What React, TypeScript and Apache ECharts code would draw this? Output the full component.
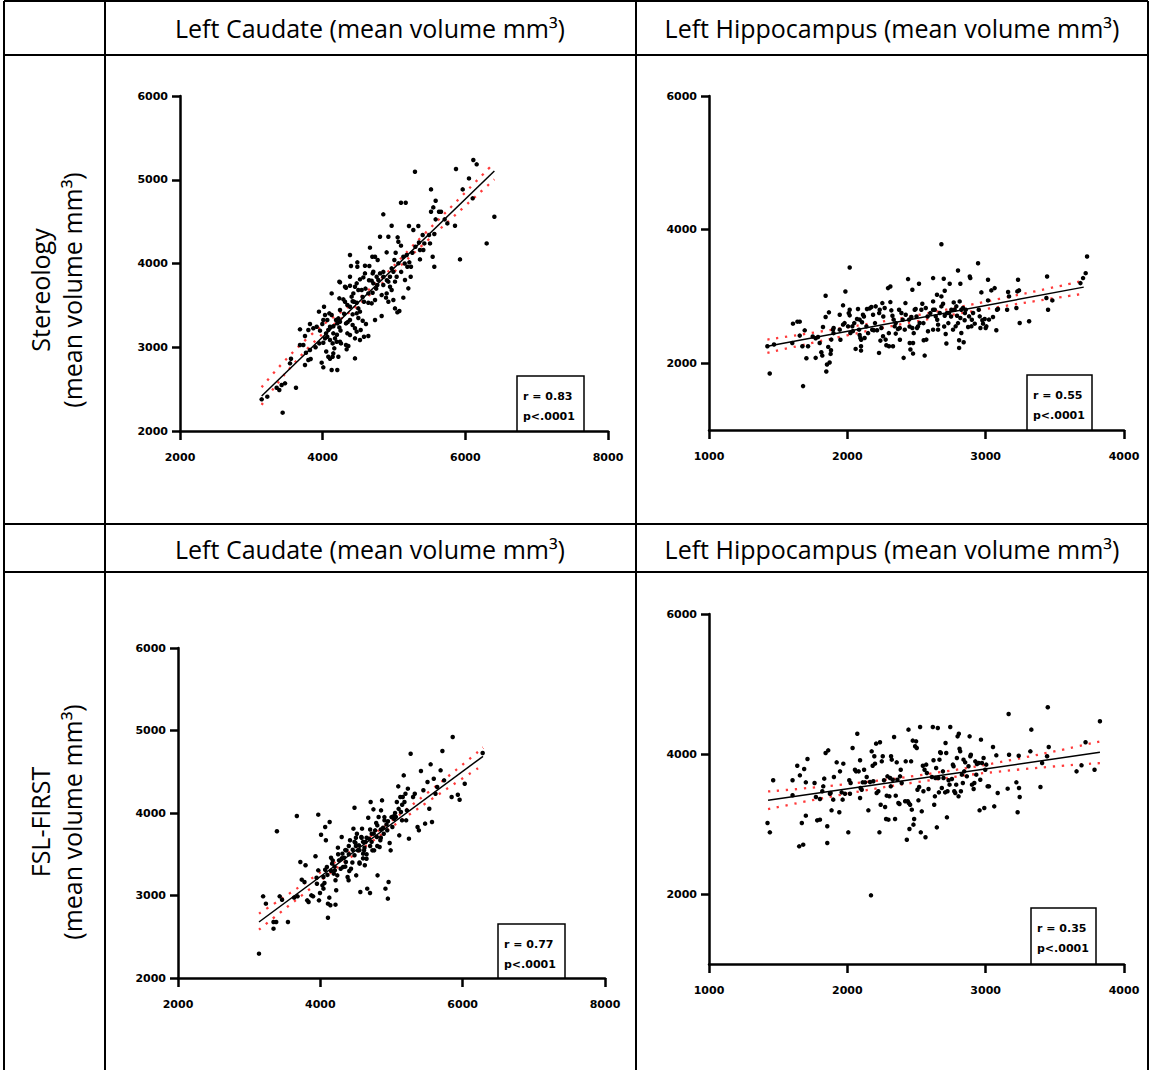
import React, { useEffect, useRef } from 'react';
import * as echarts from 'echarts';

const headerTitles = ['Left Caudate (mean volume mm³)', 'Left Hippocampus (mean volume mm³)'];
const rowNames = ['Stereology', 'FSL-FIRST'];
const rowUnit = '(mean volume mm³)';
const statR = ['r = 0.83', 'r = 0.55', 'r = 0.77', 'r = 0.35'];
const statP = 'p<.0001';

const xTicksCaudate = [2000, 4000, 6000, 8000];
const xTicksHippo = [1000, 2000, 3000, 4000];
const yTicksCaudate = [2000, 3000, 4000, 5000, 6000];
const yTicksHippo = [2000, 4000, 6000];
const yRangeCaudate = [2000, 6000];
const yRangeHippo = [1000, 6000];

const stereoCaudate = [
  [6112,5235],[6159,5184],[5869,5128],[5294,5096],[6051,5016],[5963,4885],[5519,4885],[6103,4778],[5584,4750],[5551,4670],
  [5098,4726],[5164,4726],[5631,4618],[5659,4618],[5519,4618],[5710,4527],[5584,4527],[5748,4479],[5855,4451],[6407,4559],
  [4850,4587],[4967,4451],[4804,4320],[4921,4320],[5210,4447],[5341,4447],[5271,4400],[5402,4340],[5425,4240],[5491,4340],
  [5505,4240],[5565,4352],[5542,4081],[5565,3962],[5925,4049],[6299,4240],[5051,4312],[5061,4260],[5098,4213],[4663,4189],
  [4696,4081],[4734,4081],[4897,4133],[4771,4041],[4383,4101],[4486,4014],[4593,3974],[4397,3970],[5023,4129],[5005,4041],
  [5061,4002],[5131,4081],[5178,4101],[5257,4129],[5215,4014],[5238,3962],[5187,3962],[5364,4161],[5411,4161],[5364,4049],
  [4967,3942],[4991,3902],[4944,3842],[5037,3842],[5014,3783],[4850,3842],[4804,3882],[4757,3842],[4701,3882],[4687,3795],
  [4710,3763],[4766,3743],[4780,3803],[4850,3743],[4921,3783],[4944,3723],[4967,3683],[4897,3643],[4888,3592],[4921,3544],
  [4991,3564],[5014,3464],[5047,3417],[5075,3433],[5131,3592],[5201,3703],[5234,3842],[5154,3803],[4827,3623],[4734,3564],
  [4687,3524],[4734,3325],[4827,3373],[4640,3643],[4547,3683],[4579,3544],[4640,3532],[4593,3882],[4570,3834],[4523,3811],
  [4477,3763],[4453,3723],[4500,3683],[4430,3643],[4406,3604],[4383,3735],[4327,3711],[4313,3723],[4243,3775],[4234,3584],
  [4290,3572],[4313,3544],[4346,3504],[4383,3484],[4439,3544],[4477,3532],[4500,3464],[4523,3425],[4477,3405],[4420,3393],
  [4383,3325],[4420,3265],[4453,3226],[4477,3186],[4533,3206],[4561,3317],[4607,3277],[4640,3134],[4579,3126],[4523,3086],
  [4453,3106],[4383,3146],[4346,3166],[4327,3285],[4243,3444],[4220,3345],[4243,3305],[4187,3325],[4205,3285],[4234,3237],
  [4149,3166],[4103,3245],[4079,3206],[4047,3166],[4065,3126],[4103,3086],[4140,3046],[4173,3106],[4196,3066],[4243,3066],
  [4257,3046],[4327,3026],[4360,3015],[4336,2975],[4453,2867],[4163,2987],[4149,2927],[4140,2887],[4079,2887],[4103,2863],
  [4220,2887],[3986,2816],[4009,2760],[4126,2728],[4205,2728],[4033,3106],[4009,3054],[3953,3046],[3963,3198],[3995,3277],
  [4009,3325],[4033,3385],[4093,3405],[4126,3385],[4065,3325],[3916,3245],[3822,3277],[3869,3226],[3799,3206],[3682,3214],
  [3752,3134],[3729,3026],[3822,2967],[3766,2935],[3799,2847],[3832,2859],[3752,2788],[3682,3026],[3556,2863],[3542,2808],
  [3472,2569],[3425,2549],[3355,2517],[3392,2489],[3224,2410],[3145,2378],[3626,2517],[3439,2219],[3948,3425],[4019,3484],
  [4126,3643],[4234,3783],[4383,3842],[4486,3962],[4654,3970],[4710,3902],[4300,3400],[4350,3300],[4420,3550],[4560,3600],
  [4600,3700],[4700,3650],[4750,3700],[4850,3900],[4900,3800],[5100,3900],[5150,4000],[5300,4200],[5350,4250],[4200,3150],
  [4250,3200],[4150,3250],[3900,3000],[4050,2950],[4500,3350],[4650,3800]
];

const stereoHippo = [
  [1422,2254],[1439,1846],[1470,2279],[1602,2303],[1607,2592],[1639,2622],[1656,2622],[1656,2413],[1675,2254],[1680,1657],
  [1692,2492],[1704,2075],[1716,2254],[1771,2080],[1771,2373],[1788,2393],[1800,2303],[1812,2164],[1819,2114],[1824,2542],
  [1843,3010],[1843,2692],[1848,1876],[1853,1980],[1862,2244],[1867,2761],[1872,2010],[1879,2139],[1882,2194],[1884,2353],
  [1896,2502],[1901,2527],[1945,2502],[1945,2726],[1969,2866],[1969,2577],[1986,3074],[2005,2552],[2017,3433],[2017,2801],
  [2017,2716],[2022,2453],[2036,2552],[2060,2214],[2070,2662],[2077,2811],[2085,2502],[2089,2652],[2089,2423],[2094,2378],
  [2099,2254],[2099,2189],[2106,2612],[2113,2726],[2125,2378],[2138,2552],[2142,2811],[2162,2821],[2174,2841],[2186,2726],
  [2191,2493],[2205,2851],[2215,2493],[2229,2154],[2234,2801],[2239,2338],[2246,2527],[2253,2900],[2258,2403],[2270,2826],
  [2277,2353],[2282,2269],[2294,3124],[2311,3149],[2301,2254],[2311,2915],[2318,2791],[2326,2711],[2330,2254],[2335,2652],
  [2342,2552],[2350,2443],[2366,2512],[2374,2801],[2379,2527],[2391,2751],[2407,2080],[2415,2502],[2422,2726],[2439,3259],
  [2446,2652],[2451,2303],[2456,2204],[2463,2692],[2470,2527],[2470,3099],[2475,2144],[2475,2303],[2487,2801],[2494,2811],
  [2504,2527],[2511,2552],[2518,3189],[2523,2602],[2535,2801],[2542,2891],[2552,2343],[2559,2114],[2567,2826],[2571,2353],
  [2583,2478],[2620,3274],[2620,2925],[2620,2502],[2632,2801],[2639,2701],[2648,3025],[2656,2502],[2656,2577],[2668,2751],
  [2680,3781],[2680,3000],[2692,2891],[2697,3264],[2704,2711],[2704,3085],[2711,2438],[2716,2294],[2721,2751],[2735,2751],
  [2740,3189],[2752,2801],[2764,2502],[2769,2910],[2776,2801],[2783,2552],[2788,2851],[2793,2711],[2800,3388],[2808,2229],
  [2808,2343],[2812,2925],[2817,3189],[2817,2677],[2824,2453],[2824,2801],[2836,2826],[2841,2313],[2848,2642],[2856,2801],
  [2873,2542],[2880,2701],[2885,3299],[2889,3274],[2897,2552],[2909,2751],[2921,2592],[2945,3497],[2957,2701],[2962,2527],
  [2969,3060],[2976,2642],[2981,2592],[2993,2662],[3000,2527],[3005,2552],[3017,2940],[3017,3249],[3024,2652],[3041,3090],
  [3053,2692],[3065,3124],[3077,2493],[3082,2801],[3089,2811],[3155,2801],[3162,3065],[3169,3000],[3222,2826],[3229,3075],
  [3234,3249],[3241,3090],[3246,2602],[3314,2627],[3444,3299],[3451,2801],[3439,2975],[3482,2940],[3685,3199],[3704,3274],
  [3723,3348],[3733,3597],[2050,2600],[2120,2700],[2150,2450],[2200,2600],[2260,2700],[2300,2450],[2350,2600],[2400,2650],
  [2450,2550],[2500,2700],[2550,2600],[2600,2750],[2650,2650],[2700,2550],[2750,2700],[2800,2600],[2850,2750],[2900,2650],
  [2950,2800],[2100,2350],[2180,2500],[2230,2750],[2380,2350],[2420,2900],[2480,2450],[2580,2700],[2620,2800],[2680,2850],
  [2730,2600],[1950,2350],[1900,2450],[1750,2400],[1980,2600],[2010,2750],[2040,2480]
];

const firstCaudate = [
  [3138,2295],[3196,2990],[3235,2901],[3342,2679],[3380,2679],[3342,2598],[3429,2990],[3462,2949],[3545,2679],[3390,3778],
  [3670,3963],[3632,2974],[3680,2990],[3719,3406],[3792,3366],[3739,3192],[3777,3164],[3816,2941],[3835,2921],[3874,3002],
  [3898,2990],[3932,3475],[3947,3216],[3952,3143],[3971,3980],[3971,3305],[3981,2941],[3995,3030],[4010,3737],[4029,3123],
  [4044,3224],[4044,3083],[4058,3151],[4068,3313],[4068,3830],[4078,3669],[4092,3345],[4107,2731],[4107,2901],[4126,2974],
  [4131,3891],[4141,2881],[4150,3458],[4165,3386],[4174,3426],[4189,3265],[4204,3305],[4213,3184],[4213,2889],[4223,3063],
  [4238,3244],[4247,3580],[4262,3426],[4286,3325],[4300,3709],[4310,3507],[4320,3345],[4334,3458],[4359,3406],[4368,3547],
  [4383,3224],[4397,3184],[4407,3297],[4417,3669],[4431,3325],[4455,3555],[4465,3810],[4480,4064],[4480,3487],[4494,3636],
  [4504,3244],[4514,3749],[4528,3547],[4543,3608],[4552,3386],[4562,3042],[4576,3709],[4586,3810],[4601,3507],[4615,3547],
  [4625,3366],[4635,3648],[4649,3446],[4659,3083],[4673,3943],[4683,3689],[4698,3030],[4707,4133],[4722,3749],[4731,3547],
  [4746,4044],[4756,3547],[4770,3790],[4785,3879],[4794,3709],[4804,3244],[4819,3951],[4833,3588],[4843,3669],[4853,4032],
  [4867,4153],[4882,3822],[4891,3749],[4901,3911],[4915,3083],[4930,3862],[4940,3790],[4949,2962],[4959,3164],[4974,3636],
  [4988,3547],[5012,3830],[5027,3959],[5037,3931],[5061,3951],[5075,4133],[5095,4323],[5109,3729],[5124,4194],[5133,4012],
  [5148,3911],[5158,4194],[5172,4456],[5182,4133],[5196,4234],[5206,3911],[5216,4032],[5230,4295],[5245,3689],[5269,4719],
  [5303,4194],[5327,4234],[5366,3830],[5385,3790],[5414,4509],[5448,4275],[5472,3871],[5506,4376],[5531,4052],[5550,4590],
  [5569,3891],[5594,4416],[5618,4234],[5642,4315],[5690,4517],[5715,4751],[5739,4396],[5845,4194],[5860,4921],[5932,4222],
  [5957,4161],[6029,4355],[6281,4727],[4300,3450],[4350,3350],[4400,3500],[4450,3400],[4500,3600],[4550,3550],[4600,3650],
  [4650,3700],[4700,3800],[4750,3750],[4800,3850],[4850,3800],[4900,3950],[4950,3900],[5000,3950],[4200,3350],[4150,3300],
  [4250,3500],[4600,3450],[4700,3600],[4500,3700],[4400,3600],[4350,3550],[4100,3250],[5050,4000],[5100,4050],[5150,4100],
  [4850,3700],[4550,3400],[4800,3600],[4650,3500],[4480,3650],[4620,3580],[4580,3700],[4720,3650]
];

const firstHippo = [
  [1423,3014],[1440,2881],[1464,3624],[1604,3624],[1604,3410],[1638,3833],[1657,3695],[1652,2681],[1671,3014],[1681,2705],
  [1688,3786],[1700,3595],[1700,3119],[1712,3929],[1763,3586],[1773,3386],[1782,3052],[1802,3062],[1802,3357],[1819,3467],
  [1826,3538],[1833,3648],[1843,4014],[1855,2967],[1855,2729],[1862,4052],[1874,3433],[1879,3443],[1886,3195],[1898,3348],
  [1903,3671],[1923,3881],[1942,3167],[1947,3752],[1959,3452],[1966,3348],[1971,3862],[1983,3433],[2007,2881],[2014,3624],
  [2019,3433],[2024,3586],[2038,4086],[2055,3776],[2063,3752],[2072,4290],[2082,3752],[2092,3910],[2092,3371],[2096,3514],
  [2104,3490],[2111,3595],[2121,3776],[2128,3595],[2140,3671],[2152,3195],[2164,3600],[2176,4038],[2183,3833],[2188,3610],
  [2195,3967],[2200,3862],[2208,4148],[2212,3443],[2224,3467],[2232,2881],[2236,4167],[2241,3276],[2249,3895],[2256,3967],
  [2265,3624],[2273,3243],[2280,3071],[2285,3405],[2290,3681],[2297,3062],[2304,3395],[2309,3657],[2314,3538],[2316,3967],
  [2321,3919],[2328,3633],[2338,4243],[2345,3071],[2350,3405],[2357,3881],[2362,3633],[2369,3300],[2377,3286],[2381,3681],
  [2386,3776],[2393,3586],[2418,3324],[2422,3895],[2430,2776],[2437,3324],[2442,4348],[2444,3300],[2449,2929],[2454,3276],
  [2461,3895],[2466,3205],[2473,4191],[2478,2991],[2483,3071],[2490,4110],[2497,4181],[2502,4086],[2507,3490],[2514,3338],
  [2519,3529],[2526,4386],[2531,2881],[2538,3181],[2546,3833],[2550,3467],[2558,3776],[2565,2810],[2570,3848],[2575,3729],
  [2587,3500],[2611,3671],[2618,4386],[2623,3910],[2628,3276],[2633,3395],[2637,3657],[2642,3800],[2647,2952],[2654,4371],
  [2659,3657],[2662,3452],[2666,3919],[2671,4024],[2676,4014],[2683,3514],[2691,3752],[2695,3657],[2707,3452],[2710,4157],
  [2715,4014],[2720,3095],[2724,3467],[2732,3624],[2739,3562],[2744,4386],[2756,3643],[2763,3848],[2768,3824],[2773,3467],
  [2780,3443],[2787,3562],[2792,3943],[2797,4252],[2804,3395],[2806,4290],[2811,4076],[2816,4038],[2821,3467],[2828,3705],
  [2835,3586],[2840,3919],[2845,3752],[2852,3881],[2864,3681],[2876,3824],[2884,4252],[2889,3967],[2893,3990],[2901,3562],
  [2913,3500],[2918,3586],[2925,3895],[2932,3705],[2937,3857],[2949,3871],[2956,3195],[2961,3633],[2966,4205],[2973,3871],
  [2985,3943],[2990,3229],[2997,3776],[3004,3848],[3014,3538],[3024,3538],[3053,4100],[3062,3252],[3077,3981],[3087,3443],
  [3159,3505],[3166,4571],[3169,3990],[3222,3595],[3231,3167],[3239,3976],[3241,3514],[3246,3386],[3323,4038],[3330,4348],
  [3396,3529],[3408,3871],[3444,3967],[3449,4667],[3456,4100],[3657,3752],[3693,3838],[3722,4167],[3787,3776],[3826,4467],
  [2171,1981]
];

const regStereoCaudate = [[3145, 2418], [6407, 5104]];
const ciUpStereoCaudate = [[3145, 2523], [3800, 3119], [4600, 3651], [5400, 4330], [6407, 5204]];
const ciLoStereoCaudate = [[3145, 2313], [3800, 2995], [4600, 3581], [5400, 4220], [6407, 5004]];

const regStereoHippo = [[1422, 2254], [3709, 3139]];
const ciUpStereoHippo = [[1422, 2354], [2000, 2538], [2500, 2717], [3100, 2964], [3709, 3234]];
const ciLoStereoHippo = [[1422, 2154], [2000, 2418], [2500, 2627], [3100, 2844], [3709, 3040]];

const regFirstCaudate = [[3138, 2679], [6286, 4687]];
const ciUpFirstCaudate = [[3138, 2780], [3900, 3220], [4700, 3712], [5500, 4240], [6286, 4792]];
const ciLoFirstCaudate = [[3138, 2586], [3900, 3110], [4700, 3638], [5500, 4130], [6286, 4582]];

const regFirstHippo = [[1427, 3338], [3826, 4024]];
const ciUpFirstHippo = [[1427, 3465], [2000, 3570], [2600, 3720], [3200, 3920], [3826, 4180]];
const ciLoFirstHippo = [[1427, 3212], [2000, 3434], [2600, 3625], [3200, 3770], [3826, 3870]];

const panels = [
  { grid: { left: 180, top: 96, width: 428, height: 335 }, xt: xTicksCaudate, yr: yRangeCaudate, yt: yTicksCaudate,
    data: stereoCaudate, reg: regStereoCaudate, up: ciUpStereoCaudate, lo: ciLoStereoCaudate, box: { x: 517, y: 376, w: 67, h: 55 }, r: statR[0] },
  { grid: { left: 709, top: 96, width: 415, height: 334 }, xt: xTicksHippo, yr: yRangeHippo, yt: yTicksHippo,
    data: stereoHippo, reg: regStereoHippo, up: ciUpStereoHippo, lo: ciLoStereoHippo, box: { x: 1027, y: 375, w: 65, h: 55 }, r: statR[1] },
  { grid: { left: 178, top: 648, width: 427, height: 330 }, xt: xTicksCaudate, yr: yRangeCaudate, yt: yTicksCaudate,
    data: firstCaudate, reg: regFirstCaudate, up: ciUpFirstCaudate, lo: ciLoFirstCaudate, box: { x: 498, y: 924, w: 67, h: 54 }, r: statR[2] },
  { grid: { left: 709, top: 614, width: 415, height: 350 }, xt: xTicksHippo, yr: yRangeHippo, yt: yTicksHippo,
    data: firstHippo, reg: regFirstHippo, up: ciUpFirstHippo, lo: ciLoFirstHippo, box: { x: 1031, y: 908, w: 65, h: 56 }, r: statR[3] },
];

const AX_W = 2.5;
const labelFont = { fontFamily: '"DejaVu Sans"', fontWeight: 'bold' as const, fontSize: 11, color: '#000' };
const titleFont = '25px "Open Sans"';
const statFont = 'bold 11px "DejaVu Sans"';
const plain = (v: number) => String(v);

function buildOption() {
  const grid: any[] = [];
  const xAxis: any[] = [];
  const yAxis: any[] = [];
  const series: any[] = [];
  const graphic: any[] = [];

  panels.forEach((p, i) => {
    grid.push({ ...p.grid, containLabel: false });
    xAxis.push({
      type: 'value', gridIndex: i, min: p.xt[0], max: p.xt[p.xt.length - 1], interval: p.xt[1] - p.xt[0],
      axisLine: { show: true, onZero: false, lineStyle: { color: '#000', width: AX_W } },
      axisTick: { show: true, length: 9, lineStyle: { color: '#000', width: AX_W } },
      axisLabel: { ...labelFont, margin: 21, showMinLabel: true, showMaxLabel: true, formatter: plain },
      splitLine: { show: false },
    });
    yAxis.push({
      type: 'value', gridIndex: i, min: p.yr[0], max: p.yr[1], interval: 1000,
      axisLine: { show: true, onZero: false, lineStyle: { color: '#000', width: AX_W } },
      axisTick: { show: true, length: 8, customValues: p.yt, lineStyle: { color: '#000', width: AX_W } },
      axisLabel: { ...labelFont, margin: 12, customValues: p.yt, showMinLabel: true, showMaxLabel: true, formatter: plain },
      splitLine: { show: false },
    });
    const ciStyle = { color: '#ff3a3a', width: 2.3, type: [2.3, 6.7], cap: 'butt' };
    series.push({
      type: 'line', xAxisIndex: i, yAxisIndex: i, data: p.up, symbol: 'none', smooth: true, silent: true, z: 2,
      lineStyle: ciStyle,
    });
    series.push({
      type: 'line', xAxisIndex: i, yAxisIndex: i, data: p.lo, symbol: 'none', smooth: true, silent: true, z: 2,
      lineStyle: ciStyle,
    });
    series.push({
      type: 'scatter', xAxisIndex: i, yAxisIndex: i, data: p.data, symbolSize: 4.5, silent: true, z: 3,
      itemStyle: { color: '#000', opacity: 1 },
    });
    series.push({
      type: 'line', xAxisIndex: i, yAxisIndex: i, data: p.reg, symbol: 'none', silent: true, z: 4,
      lineStyle: { color: '#000', width: 1.5 },
    });
    graphic.push({
      type: 'rect', z: 10, shape: { x: p.box.x, y: p.box.y, width: p.box.w, height: p.box.h },
      style: { fill: '#fff', stroke: '#000', lineWidth: 1.5 },
    });
    graphic.push({
      type: 'text', z: 11, x: p.box.x + 6, y: p.box.y + 20,
      style: { text: p.r, font: statFont, fill: '#000', textAlign: 'left', textVerticalAlign: 'middle' },
    });
    graphic.push({
      type: 'text', z: 11, x: p.box.x + 6, y: p.box.y + 40,
      style: { text: statP, font: statFont, fill: '#000', textAlign: 'left', textVerticalAlign: 'middle' },
    });
  });

  // table lines
  const lineStyle = { stroke: '#000', lineWidth: 2 };
  const hl = (y: number) => ({ type: 'line', z: 20, shape: { x1: 4, y1: y, x2: 1148, y2: y }, style: lineStyle });
  const vl = (x: number) => ({ type: 'line', z: 20, shape: { x1: x, y1: 1, x2: x, y2: 1070 }, style: lineStyle });
  graphic.push(hl(1), hl(55), hl(524), hl(572), vl(4), vl(105), vl(636), vl(1148));

  // headers
  const headerY = [28, 549];
  headerY.forEach((y) => {
    graphic.push({ type: 'text', z: 21, x: 370, y, style: { text: headerTitles[0], font: titleFont, fill: '#000', textAlign: 'center', textVerticalAlign: 'middle' } });
    graphic.push({ type: 'text', z: 21, x: 892, y, style: { text: headerTitles[1], font: titleFont, fill: '#000', textAlign: 'center', textVerticalAlign: 'middle' } });
  });

  // row labels
  const rowY = [290, 822];
  rowY.forEach((y, i) => {
    graphic.push({ type: 'text', z: 21, x: 40, y, rotation: Math.PI / 2, style: { text: rowNames[i], font: titleFont, fill: '#000', textAlign: 'center', textVerticalAlign: 'middle' } });
    graphic.push({ type: 'text', z: 21, x: 72, y, rotation: Math.PI / 2, style: { text: rowUnit, font: titleFont, fill: '#000', textAlign: 'center', textVerticalAlign: 'middle' } });
  });

  return { animation: false, backgroundColor: '#fff', grid, xAxis, yAxis, series, graphic };
}

export default function App() {
  const ref = useRef<HTMLDivElement>(null);
  useEffect(() => {
    const chart = echarts.init(ref.current!, null, { renderer: 'svg' });
    chart.setOption(buildOption() as any);
    return () => chart.dispose();
  }, []);
  return <div ref={ref} style={{ position: 'absolute', left: 0, top: 0, width: 1149, height: 1070, background: '#fff' }} />;
}
